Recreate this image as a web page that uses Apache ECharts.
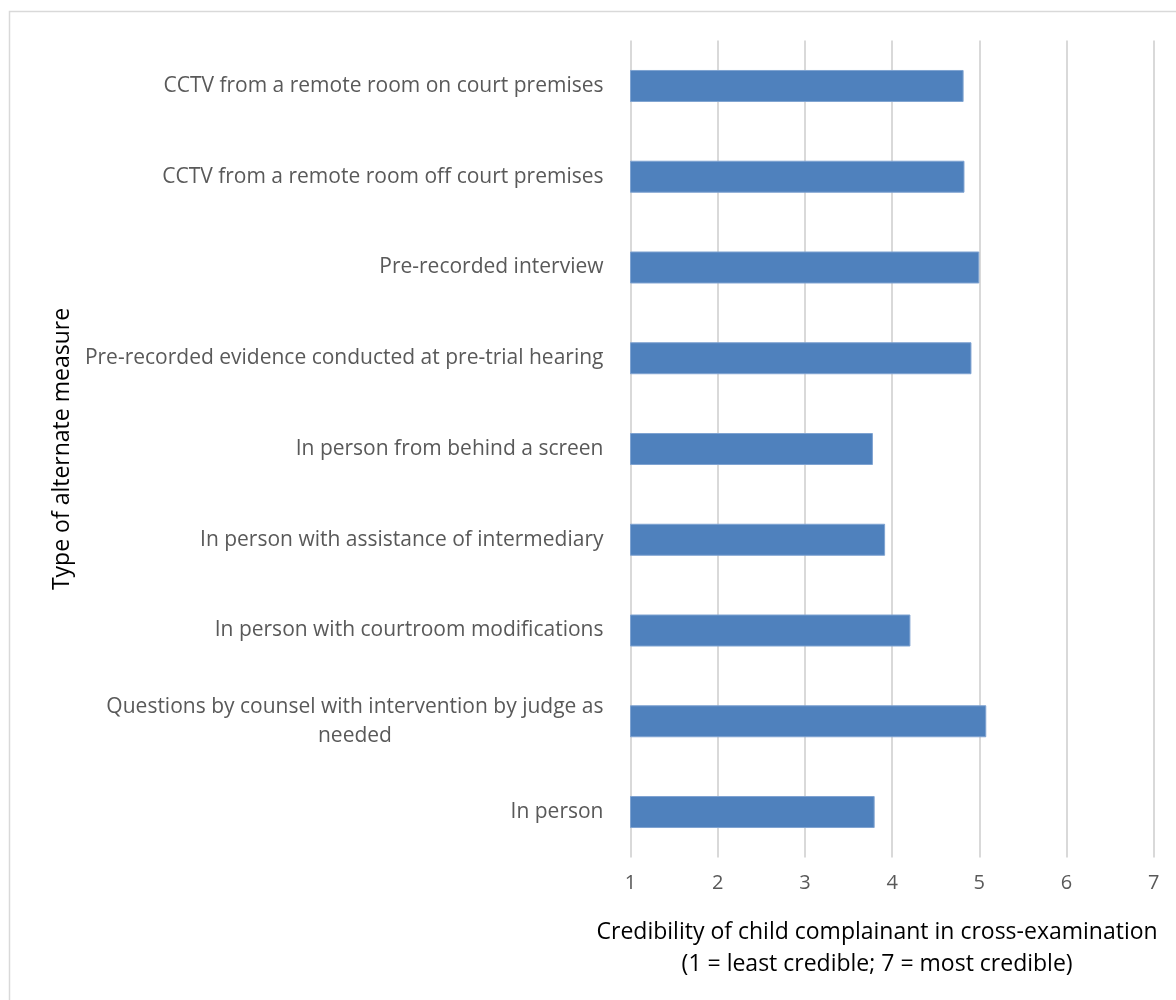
<!DOCTYPE html>
<html>
<head>
<meta charset="utf-8">
<script src="https://cdn.jsdelivr.net/npm/echarts@6/dist/echarts.min.js"></script>
<style>
html,body{margin:0;padding:0;background:#fff;}
#chart{width:1176px;height:1000px;}
</style>
</head>
<body>
<div id="chart"></div>
<script>
var categories = [
  "CCTV from a remote room on court premises",
  "CCTV from a remote room off court premises",
  "Pre-recorded interview",
  "Pre-recorded evidence conducted at pre-trial hearing",
  "In person from behind a screen",
  "In person with assistance of intermediary",
  "In person with courtroom modifications",
  "Questions by counsel with intervention by judge as\nneeded",
  "In person"
];
var values = [4.82, 4.83, 5.00, 4.91, 3.78, 3.92, 4.21, 5.08, 3.80];
var xTicks = [1, 2, 3, 4, 5, 6, 7];
var xTitle = "Credibility of child complainant in cross-examination\n(1 = least credible; 7 = most credible)";
var yTitle = "Type of alternate measure";

var FONT = "Open Sans";
var chart = echarts.init(document.getElementById('chart'), null, {renderer: 'canvas'});
var option = {
  animation: false,
  backgroundColor: '#ffffff',
  graphic: [{
    type: 'rect',
    shape: {x: 9.5, y: 11.5, width: 1200, height: 1100},
    style: {fill: 'none', stroke: '#d9d9d9', lineWidth: 1.5},
    silent: true
  }],
  grid: {left: 630.5, right: 22.3, top: 40.6, height: 816.8, containLabel: false, outerBoundsMode: 'none'},
  xAxis: {
    type: 'value',
    min: xTicks[0],
    max: xTicks[xTicks.length - 1],
    interval: 1,
    axisLine: {show: false},
    axisTick: {show: false},
    splitLine: {show: true, lineStyle: {color: '#d9d9d9', width: 2}},
    axisLabel: {
      color: '#595959', fontSize: 20, fontFamily: FONT, margin: 16,
      formatter: function (v) { return xTicks.indexOf(v) >= 0 ? String(v) : ''; }
    },
    name: xTitle,
    nameLocation: 'middle',
    nameGap: 59,
    nameTextStyle: {color: '#000000', fontSize: 23, fontFamily: FONT, lineHeight: 32, verticalAlign: 'top', padding: [0, 30, 0, 0]}
  },
  yAxis: {
    type: 'category',
    data: categories,
    inverse: true,
    axisLine: {show: false},
    axisTick: {show: false},
    splitLine: {show: false},
    axisLabel: {
      color: '#595959', fontSize: 21, fontFamily: FONT, margin: 27, lineHeight: 29,
      formatter: function (v) {
        if (v.indexOf('\n') >= 0) {
          return v.split('\n').map(function (s) { return '{c|' + s + '}'; }).join('\n');
        }
        return v;
      },
      rich: {c: {color: '#595959', fontSize: 21, fontFamily: FONT, align: 'center', lineHeight: 29}}
    },
    name: yTitle,
    nameLocation: 'middle',
    nameGap: 557,
    nameRotate: 90,
    nameTextStyle: {color: '#000000', fontSize: 23, fontFamily: FONT}
  },
  series: [{
    type: 'bar',
    data: values,
    barWidth: 32,
    itemStyle: {color: '#4F81BD', borderColor: '#7FA3D1', borderWidth: 1}
  }]
};
chart.setOption(option);
</script>
</body>
</html>
